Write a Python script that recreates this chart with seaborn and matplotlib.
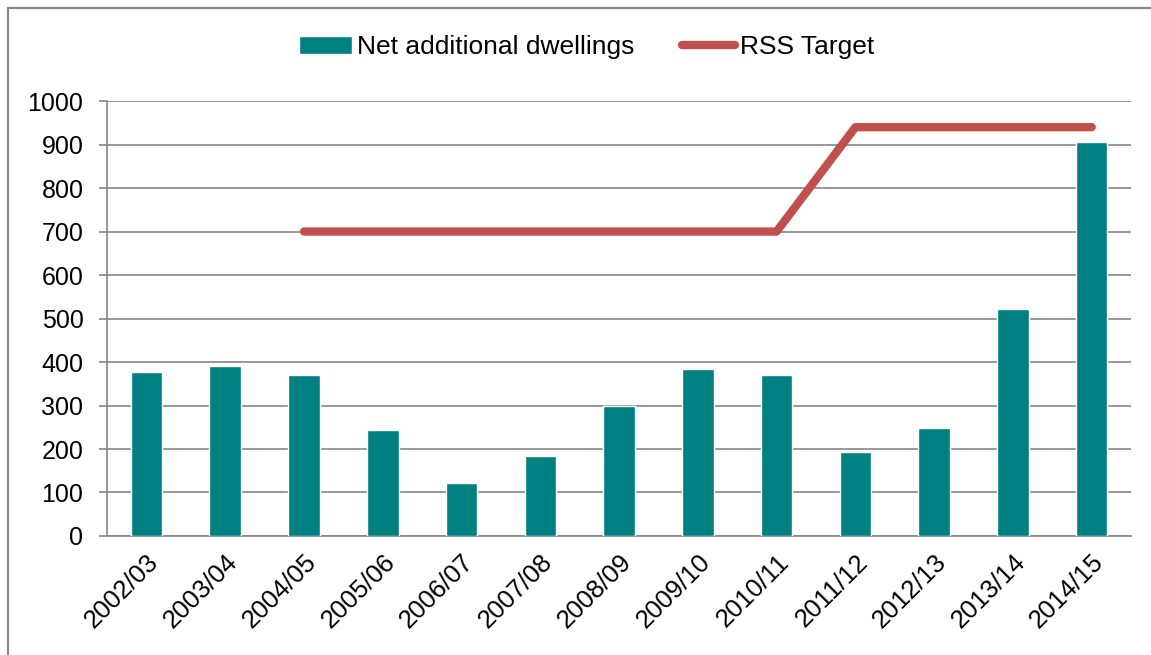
import numpy as np
import pandas as pd
import matplotlib
matplotlib.use('Agg')
import matplotlib.pyplot as plt
from matplotlib.patches import Rectangle
import seaborn as sns

# chart data
years = ['2002/03', '2003/04', '2004/05', '2005/06', '2006/07', '2007/08', '2008/09',
         '2009/10', '2010/11', '2011/12', '2012/13', '2013/14', '2014/15']
net_dwellings = [377, 391, 370, 244, 122, 185, 299, 383, 370, 194, 248, 521, 907]
rss_target = [np.nan, np.nan, 700, 700, 700, 700, 700, 700, 700, 940, 940, 940, 940]
y_ticks = list(range(0, 1001, 100))

bar_color = '#008080'
line_color = '#C0504D'
grid_color = '#868686'
fs = 18

sns.set_style('white')
plt.rcParams['font.family'] = ['Liberation Sans', 'DejaVu Sans']
plt.rcParams['text.color'] = 'black'
plt.rcParams['xtick.labelcolor'] = 'black'
plt.rcParams['ytick.labelcolor'] = 'black'

df = pd.DataFrame({'year': years, 'net': net_dwellings, 'target': rss_target})
df['pos'] = np.arange(len(df))

fig = plt.figure(figsize=(11.51, 6.55), dpi=100)
ax = fig.add_axes([0.093, 0.1817, 0.8897, 0.664])

sns.barplot(data=df, x='year', y='net', color=bar_color, width=0.4,
            saturation=1, ax=ax, label='Net additional dwellings', zorder=3)
sns.lineplot(data=df.dropna(), x='pos', y='target', color=line_color, lw=6,
             solid_capstyle='round', ax=ax, label='RSS Target', zorder=4)

ax.set_xlim(-0.5, len(years) - 0.5)
ax.set_ylim(0, 1000)
ax.set_yticks(y_ticks)
ax.set_yticklabels([str(t) for t in y_ticks], fontsize=fs)
ax.set_xticks(np.arange(len(years)))
ax.set_xticklabels(years, rotation=45, ha='right', rotation_mode='anchor', fontsize=18.5)
ax.set_xlabel('')
ax.set_ylabel('')

# category boundary ticks like the original
ax.set_xticks(np.arange(-0.5, len(years)), minor=True)
ax.tick_params(axis='x', which='major', length=0, pad=10)
ax.tick_params(axis='x', which='minor', length=6, color=grid_color, width=1.2, direction='out')
ax.tick_params(axis='y', length=6, color=grid_color, width=1.2, direction='out', pad=11, left=True)

ax.grid(axis='y', color=grid_color, lw=1.2, zorder=0)
ax.set_axisbelow(True)
for side in ['top', 'right']:
    ax.spines[side].set_visible(False)
for side in ['left', 'bottom']:
    ax.spines[side].set_color(grid_color)
    ax.spines[side].set_linewidth(1.2)

handles, labels = ax.get_legend_handles_labels()
order = [labels.index('Net additional dwellings'), labels.index('RSS Target')]
ax.legend([handles[i] for i in order], [labels[i] for i in order], loc='center',
          bbox_to_anchor=(0.51, 0.928), bbox_transform=fig.transFigure, ncol=2,
          frameon=False, fontsize=19, handlelength=2.0, handletextpad=0.2,
          columnspacing=1.8)

# chart area border
fig.patches.append(Rectangle((8 / 1151, -0.02), 1.05, 1 - 8 / 655 + 0.02,
                             transform=fig.transFigure, fill=False,
                             edgecolor=grid_color, lw=1.5))

fig.savefig('out.png', dpi=100)
